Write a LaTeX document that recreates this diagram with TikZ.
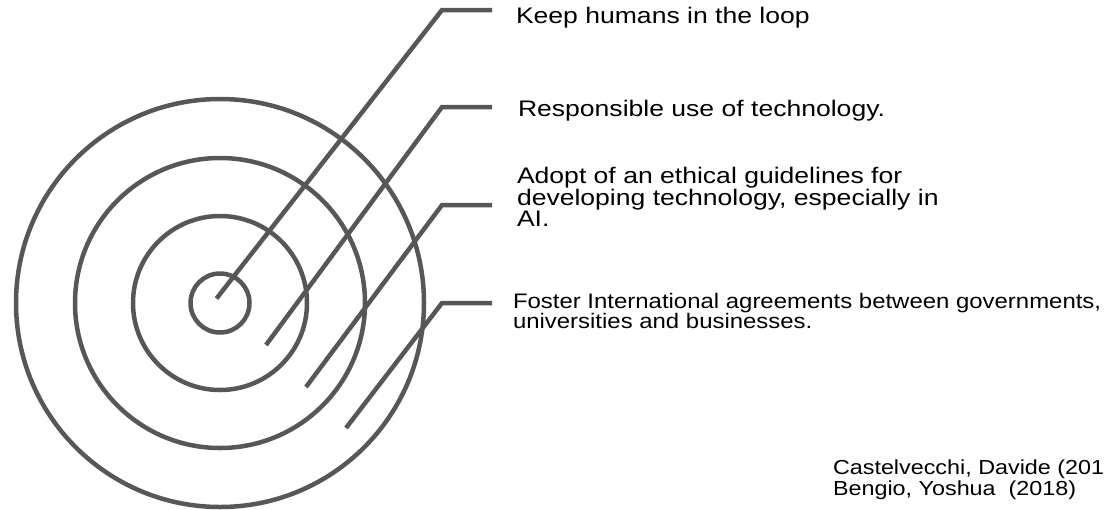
\documentclass[tikz,border=0pt]{standalone}
\usepackage{fontspec}
\setmainfont{Liberation Sans}
\newfontfamily\labA[FakeStretch=1.18]{Liberation Sans}
\newfontfamily\labB[FakeStretch=1.14]{Liberation Sans}
\newfontfamily\labC[FakeStretch=1.15]{Liberation Sans}
\definecolor{ink}{HTML}{575757}
\tikzset{
  ring/.style={circle, draw=ink, line width=4.5pt, inner sep=0pt},
  leader/.style={draw=ink, line width=4.5pt, line join=miter},
  lab/.style={inner sep=0pt, outer sep=0pt, text=black, align=left, font=\labA\fontsize{22.5}{21.5}\selectfont},
  labsmall/.style={inner sep=0pt, outer sep=0pt, text=black, align=left, font=\labB\fontsize{21}{20.5}\selectfont},
  cite/.style={inner sep=0pt, outer sep=0pt, text=black, align=left, font=\labC\fontsize{20.3}{21}\selectfont}
}
\begin{document}
\begin{tikzpicture}[x=1pt, y=-1pt]
\useasboundingbox (0,0) rectangle (1107,509);
% target rings
\node[ring, minimum size=59pt]  (r1) at (220,303) {};
\node[ring, minimum size=174pt] (r2) at (220,303) {};
\node[ring, minimum size=290pt] (r3) at (220,303) {};
\node[ring, minimum size=408pt] (r4) at (220,303) {};
% leader geometry
\coordinate (s1) at (216.5,298.5);
\coordinate (s2) at (266,345);
\coordinate (s3) at (306,387);
\coordinate (s4) at (346,428);
\coordinate (e1) at (442,10);
\coordinate (e2) at (442,107);
\coordinate (e3) at (442,205);
\coordinate (e4) at (442,303);
\coordinate (t1) at (492,10);
\coordinate (t2) at (492,107);
\coordinate (t3) at (492,205);
\coordinate (t4) at (492,303);
\draw[leader] (s1) -- (e1) -- (t1);
\draw[leader] (s2) -- (e2) -- (t2);
\draw[leader] (s3) -- (e3) -- (t3);
\draw[leader] (s4) -- (e4) -- (t4);
% labels
\node[lab, anchor=base west] (l1) at (516,23) {Keep humans in the loop};
\node[lab, anchor=base west] (l2) at (518,116) {Responsible use of technology.};
\node[lab, anchor=north west] (l3) at (517,167.5) {Adopt of an ethical guidelines for\\developing technology, especially in\\AI.};
\node[labsmall, anchor=north west] (l4) at (513,293) {Foster International agreements between governments,\\universities and businesses.};
\node[cite, anchor=north west] (c1) at (833,460) {Castelvecchi, Davide (201\\Bengio, Yoshua\ \ (2018)};
\end{tikzpicture}
\end{document}
